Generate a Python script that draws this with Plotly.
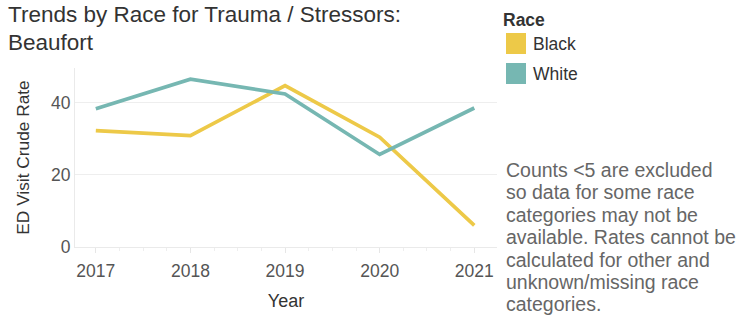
import plotly.graph_objects as go

years = [2017, 2018, 2019, 2020, 2021]
black = [32.3, 30.9, 44.8, 30.5, 6.0]
white = [38.4, 46.6, 42.5, 25.7, 38.6]
race_names = ["Black", "White"]
colors = ["#EDC948", "#76B7B2"]
title_lines = ["Trends by Race for Trauma / Stressors:", "Beaufort"]
note_lines = ["Counts <5 are excluded", "so data for some race", "categories may not be",
              "available. Rates cannot be", "calculated for other and",
              "unknown/missing race", "categories."]

FONT = "Arial, Liberation Sans, sans-serif"

fig = go.Figure()
for name, vals, c in zip(race_names, [black, white], colors):
    fig.add_trace(go.Scatter(x=years, y=vals, mode="lines", name=name,
                             line=dict(color=c, width=3.7), showlegend=False))

fig.update_layout(
    width=737, height=316,
    margin=dict(l=75, r=240, t=68, b=69, autoexpand=False),
    paper_bgcolor="white", plot_bgcolor="white",
    font=dict(family=FONT, color="#555555"),
)
fig.update_xaxes(range=[2016.78, 2021.24], tickmode="array", tickvals=years,
                 ticktext=[str(y) for y in years], showgrid=False, automargin=False,
                 ticks="outside", ticklen=5, tickcolor="#e6e6e6",
                 minor=dict(dtick=0.25, tick0=2017, ticks="outside", ticklen=3, tickcolor="#eeeeee"),
                 showline=True, linecolor="#eaeaea", linewidth=1,
                 tickfont=dict(size=17.5, color="#555555"), ticklabelstandoff=3,
                 title=dict(text="Year", font=dict(size=18, color="#333333"), standoff=14),
                 zeroline=False)
fig.update_yaxes(range=[0, 49.7], tickvals=[0, 20, 40], showgrid=True, gridcolor="#eeeeee",
                 showline=True, linecolor="#eaeaea", zeroline=False, automargin=False,
                 tickfont=dict(size=17.5, color="#555555"), ticks="",
                 title=dict(text="ED Visit Crude Rate", font=dict(size=17.3, color="#333333"), standoff=16))

def px(x): return (x - 75) / 422
def py(y): return (247 - y) / 179

# title
for i, t in enumerate(title_lines):
    fig.add_annotation(x=px(6), y=py(14 + 28 * i), xref="paper", yref="paper", text=t,
                       showarrow=False, xanchor="left", yanchor="middle", align="left",
                       font=dict(size=22.5, color="#333333", family=FONT))

# legend (manual, square swatches)
fig.add_annotation(x=px(501), y=py(20), xref="paper", yref="paper", text="<b>Race</b>",
                   showarrow=False, xanchor="left", yanchor="middle",
                   font=dict(size=17.5, color="#333333", family=FONT))
for i, (name, c) in enumerate(zip(race_names, colors)):
    top = 33 + i * 30
    fig.add_shape(type="rect", xref="paper", yref="paper",
                  x0=px(506), x1=px(526), y0=py(top + 21), y1=py(top),
                  fillcolor=c, line=dict(width=0))
    fig.add_annotation(x=px(531), y=py(top + 11), xref="paper", yref="paper", text=name,
                       showarrow=False, xanchor="left", yanchor="middle",
                       font=dict(size=17.5, color="#333333", family=FONT))

for i, t in enumerate(note_lines):
    fig.add_annotation(x=px(504), y=py(170 + 22.4 * i), xref="paper", yref="paper", text=t,
                       showarrow=False, xanchor="left", yanchor="middle", align="left",
                       font=dict(size=19.5, color="#666666", family=FONT))

fig.write_html("out.html", config={"displayModeBar": False},
               post_script="document.body.style.margin='0';")
